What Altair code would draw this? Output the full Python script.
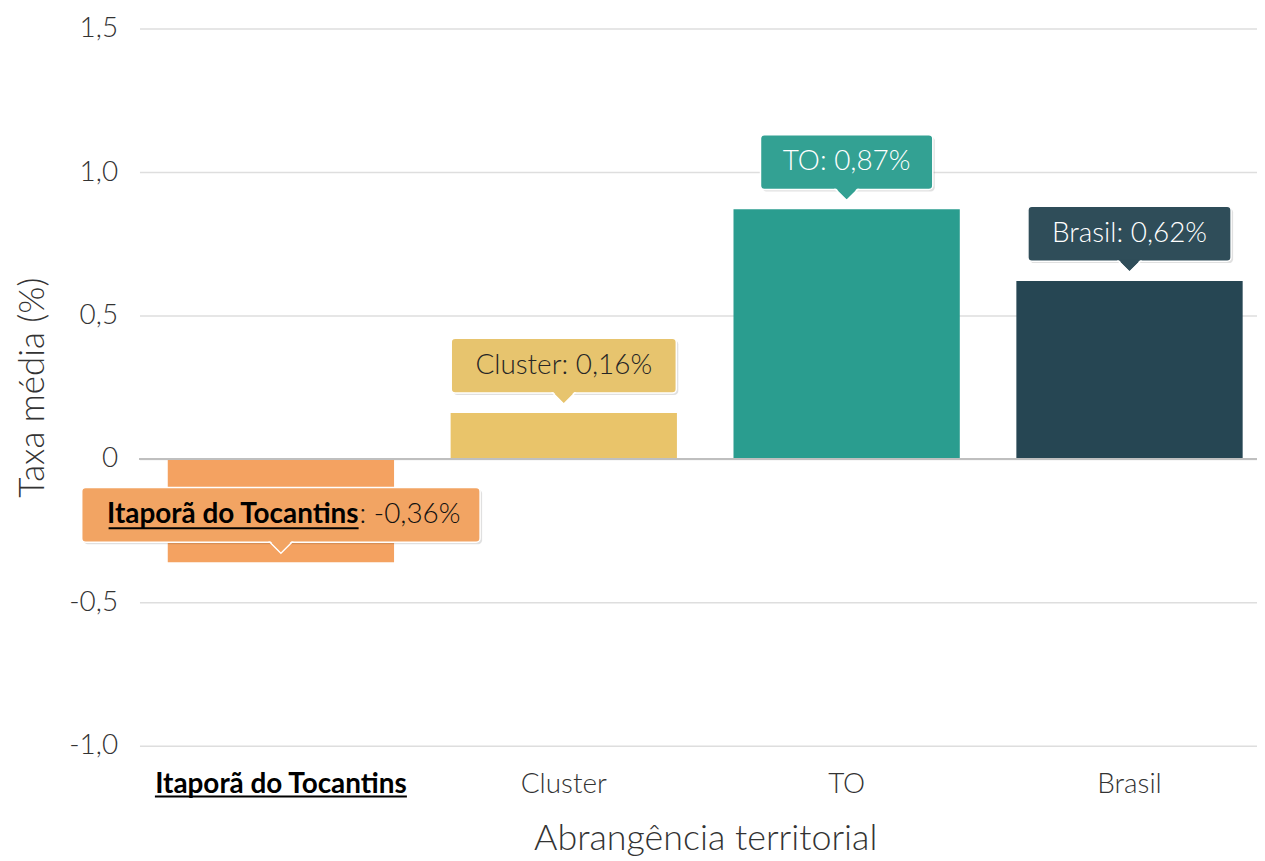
import altair as alt
import pandas as pd

# ---- data ----
categories = ["Itaporã do Tocantins", "Cluster", "TO", "Brasil"]
values = [-0.36, 0.16, 0.87, 0.62]
highlight = "Itaporã do Tocantins"
y_ticks = [-1.0, -0.5, 0.0, 0.5, 1.0, 1.5]

# ---- styles ----
bar_colors = ["#F4A261", "#E9C46A", "#2A9D8F", "#264653"]
callout_fills = ["#F2A463", "#E7C46E", "#33A193", "#2F4D59"]
callout_text_colors = ["#111111", "#262626", "#ffffff", "#ffffff"]
callout_widths = [400, 226, 173, 204]
FONT = "Lato"
FS = 28
W, H = 1122, 720
X_RANGE = [0, 1136]


def fmt(v):
    s = f"{abs(v):.2f}".replace(".", ",")
    return ("-" if v < 0 else "") + s + "%"


df = pd.DataFrame({
    "cat": categories,
    "val": values,
    "color": bar_colors,
    "fill": callout_fills,
    "tcolor": callout_text_colors,
    "label": [f"{c}: {fmt(v)}" for c, v in zip(categories, values)],
    "suffix": [f": {fmt(v)}" for v in values],
})

X = alt.X(
    "cat:N",
    sort=categories,
    scale=alt.Scale(paddingInner=0.2, paddingOuter=0.1, range=X_RANGE),
    axis=alt.Axis(
        title="Abrangência territorial",
        titleFont=FONT, titleFontSize=36, titleFontWeight=300, titleColor="#333333",
        titlePadding=23,
        labelFont=FONT, labelFontSize=FS, labelAngle=0, labelPadding=25, labelLimit=0,
        labelFontWeight=alt.condition(f"datum.value == '{highlight}'", alt.value("bold"), alt.value(300)),
        labelColor=alt.condition(f"datum.value == '{highlight}'", alt.value("#000000"), alt.value("#333333")),
        ticks=False, domain=False, grid=False,
    ),
)
Y = alt.Y(
    "val:Q",
    scale=alt.Scale(domain=[-1.0, 1.5], nice=False, zero=False),
    axis=alt.Axis(
        title="Taxa média (%)",
        titleFont=FONT, titleFontSize=35, titleFontWeight=300, titleColor="#333333",
        titlePadding=18,
        values=y_ticks,
        labelExpr="datum.value == 0 ? '0' : (datum.value < 0 ? '-' : '') + replace(format(abs(datum.value), '.1f'), '.', ',')",
        labelFont=FONT, labelFontSize=FS, labelFontWeight=300, labelColor="#333333",
        labelPadding=22,
        ticks=False, domain=False,
        grid=True, gridColor="#dedede", gridWidth=1.5,
    ),
)

base = alt.Chart(df)

bars = base.transform_calculate(zero="0").mark_bar().encode(
    x=X, y=Y, y2=alt.Y2("zero:Q"), color=alt.Color("color:N", scale=None))

zero_line = base.mark_rule(color="#bfbfbf", strokeWidth=2).encode(y=alt.datum(0))

layers = [bars, zero_line]

TRI = "M -1 0 L 1 0 L 0 1 Z"

for c, w in zip(categories, callout_widths):
    sub = base.transform_filter(alt.datum.cat == c)
    shadow = sub.mark_bar(width=w, cornerRadius=4, fill="#000000", opacity=0.12,
                          xOffset=2, yOffset=-73, y2Offset=-18).encode(x=X, y=Y, y2="val:Q")
    box = sub.mark_bar(width=w, cornerRadius=4, stroke="white", strokeWidth=1.5,
                       yOffset=-75, y2Offset=-20).encode(
        x=X, y=Y, y2="val:Q", color=alt.Color("fill:N", scale=None))
    layers += [shadow, box]

tri = base.mark_point(shape=TRI, size=484, filled=True, opacity=1, stroke="white",
                      strokeWidth=1.5, yOffset=-20).encode(
    x=X, y=Y, fill=alt.Fill("fill:N", scale=None))
tri_cover = base.mark_point(shape=TRI, size=484, filled=True, opacity=1, strokeWidth=0,
                            yOffset=-21.5).encode(
    x=X, y=Y, fill=alt.Fill("fill:N", scale=None))
layers += [tri, tri_cover]

plain_text = base.transform_filter(alt.datum.cat != highlight).mark_text(
    font=FONT, fontSize=FS, fontWeight=300, baseline="middle", yOffset=-47
).encode(x=X, y=Y, text="label:N", color=alt.Color("tcolor:N", scale=None))

hl = base.transform_filter(alt.datum.cat == highlight)
hl_bold = hl.mark_text(font=FONT, fontSize=FS, fontWeight="bold", baseline="middle",
                       align="right", dx=78, yOffset=-47, color="#000000").encode(
    x=X, y=Y, text="cat:N")
hl_rest = hl.mark_text(font=FONT, fontSize=FS, fontWeight=300, baseline="middle",
                       align="left", dx=79, yOffset=-47).encode(
    x=X, y=Y, text="suffix:N", color=alt.Color("tcolor:N", scale=None))
hl_ul = hl.mark_bar(width=251, xOffset=-47.5, yOffset=-35, y2Offset=-33, color="#000000").encode(
    x=X, y=Y, y2="val:Q")
axis_ul = hl.mark_bar(width=253, color="#000000").encode(
    x=X, y=alt.value(H + 50), y2=alt.value(H + 52))

layers += [plain_text, hl_bold, hl_rest, hl_ul, axis_ul]

chart = alt.layer(*layers).properties(
    width=W, height=H,
    autosize=alt.AutoSizeParams(type="none"),
    padding={"left": 132, "top": 19, "right": 0, "bottom": 112},
).configure(font=FONT).configure_view(stroke=None)

chart.save("out.html", embed_options={"renderer": "svg", "actions": False})
